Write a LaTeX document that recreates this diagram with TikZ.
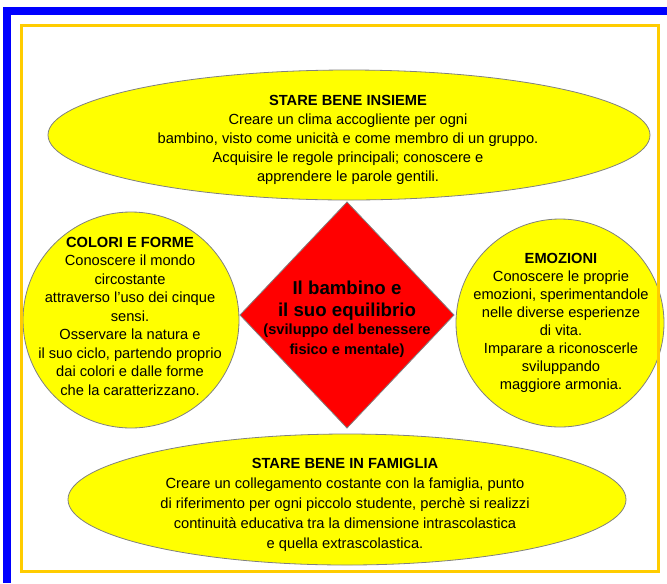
\documentclass[tikz,border=0pt]{standalone}
\usepackage{fontspec}
\setmainfont{Liberation Sans}
\definecolor{frameblue}{HTML}{0000FF}
\definecolor{frameorange}{HTML}{FFCC00}
\definecolor{bubbleyellow}{HTML}{FFFF00}
\definecolor{centrered}{HTML}{FF0000}
\definecolor{outlinegray}{HTML}{808080}

\begin{document}
\begin{tikzpicture}[x=0.75pt,y=0.75pt,yscale=-1,xscale=1,
	bubble/.style={draw=outlinegray,fill=bubbleyellow,line width=0.6pt},
	body/.style={anchor=north,inner sep=0pt,align=center,font=\fontsize{11}{#1}\selectfont}]
	\useasboundingbox (0,0) rectangle (667,583);
	
	%Frame: outer blue
	\draw [frameblue,line width=6pt]  (7,583) -- (7,11) -- (667,11) ;
	
	%Shape: Ellipse top
	\draw [bubble]  (349,135) ellipse (301 and 65) ;
	%Shape: Circle left
	\draw [bubble]  (131,320) circle (108) ;
	%Shape: Circle right
	\draw [bubble]  (560,323) circle (104) ;
	%Shape: Ellipse bottom
	\draw [bubble]  (347,499.5) ellipse (279 and 65.5) ;
	%Shape: Diamond
	\draw [draw=outlinegray,fill=centrered,line width=0.6pt]  (347,202) -- (454,315) -- (347,428) -- (240,315) -- cycle ;
	
	%Frame: inner orange
	\draw [frameorange,line width=2.25pt]  (21,25.5) rectangle (658,571.5) ;
	
	% Text Node
	\draw (348,94.5) node (insieme) [body=14.25]  {\textbf{STARE BENE INSIEME}\\Creare un clima accogliente per ogni\\bambino, visto come unicità e come membro di un gruppo.\\Acquisire le regole principali; conoscere e\\apprendere le parole gentili.};
	% Text Node
	\draw (130,236.5) node (colori) [body=13.9]  {\textbf{COLORI E FORME}\\Conoscere il mondo\\circostante\\attraverso l'uso dei cinque\\sensi.\\Osservare la natura e\\il suo ciclo, partendo proprio\\dai colori e dalle forme\\che la caratterizzano.};
	% Text Node
	\draw (561,252.5) node (emozioni) [body=13.5]  {\textbf{EMOZIONI}\\Conoscere le proprie\\emozioni, sperimentandole\\nelle diverse esperienze\\di vita.\\Imparare a riconoscerle\\sviluppando\\maggiore armonia.};
	% Text Node
	\draw (345,457.5) node (famiglia) [body=15]  {\textbf{STARE BENE IN FAMIGLIA}\\Creare un collegamento costante con la famiglia, punto\\di riferimento per ogni piccolo studente, perchè si realizzi\\continuità educativa tra la dimensione intrascolastica\\e quella extrascolastica.};
	% Text Node
	\draw (347,281) node (bambino) [anchor=north,inner sep=0pt,align=center,font=\fontsize{14}{16.5}\selectfont\bfseries]  {Il bambino e\\il suo equilibrio};
	% Text Node
	\draw (347,324) node (sviluppo) [anchor=north,inner sep=0pt,align=center,font=\fontsize{11}{15}\selectfont\bfseries]  {(sviluppo del benessere\\fisico e mentale)};
	
\end{tikzpicture}
\end{document}
